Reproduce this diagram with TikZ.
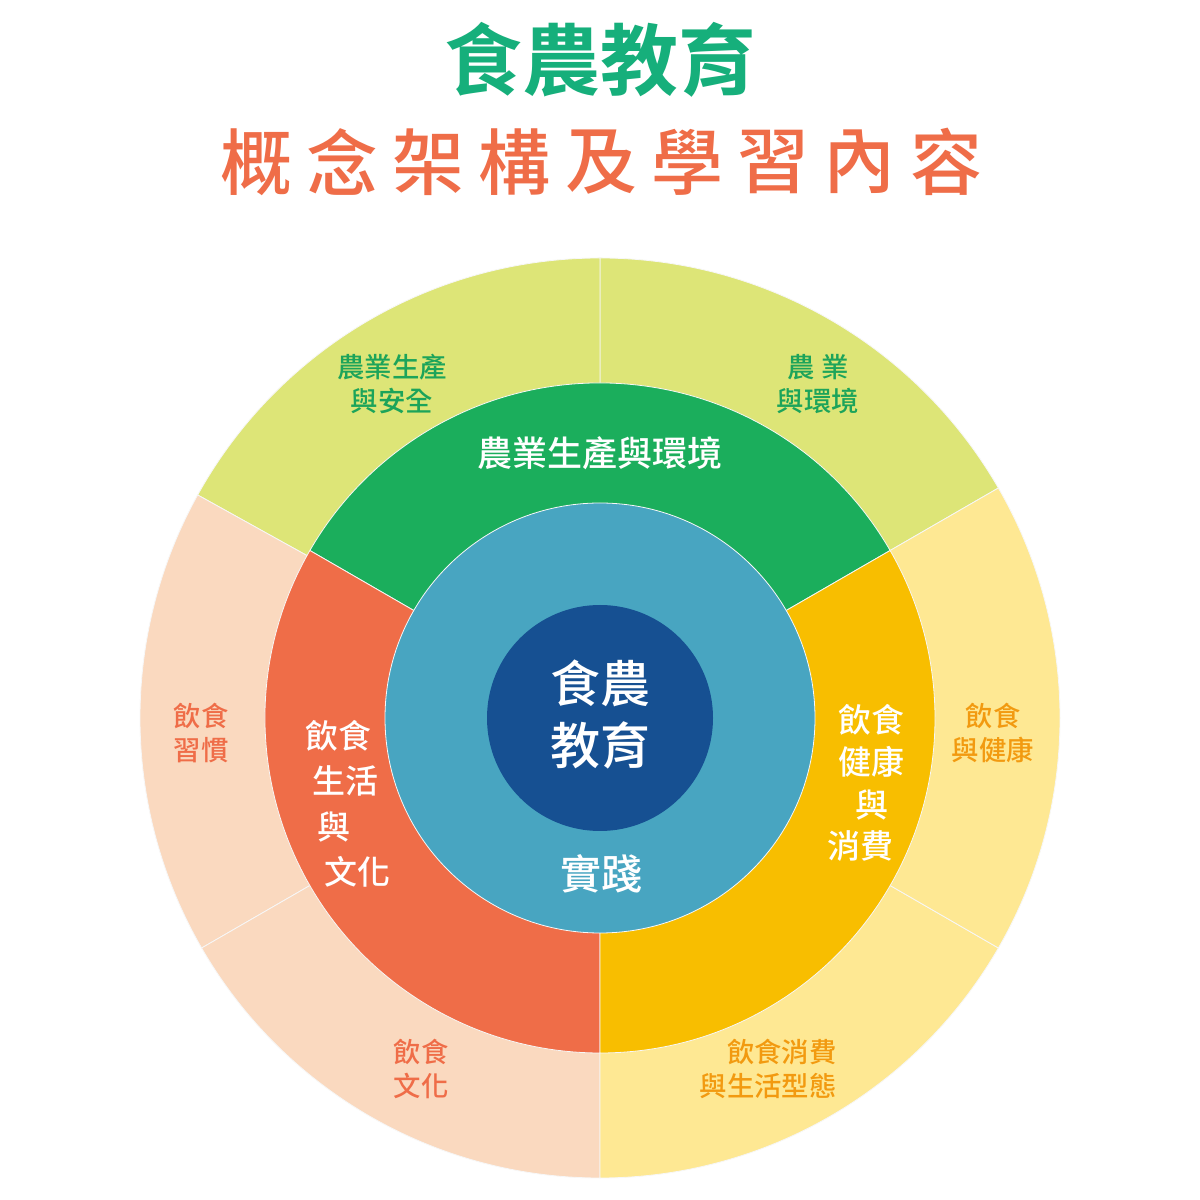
\documentclass[tikz,border=0pt]{standalone}
\usepackage{fontspec}
\usetikzlibrary{positioning}
\newfontfamily\cjk{Noto Sans CJK TC}
\newfontfamily\cjkmid{Noto Sans CJK TC Medium}
\newfontfamily\cjkbold{Noto Sans CJK TC Bold}
\definecolor{lime}{HTML}{DDE577}
\definecolor{peach}{HTML}{FAD9BF}
\definecolor{cream}{HTML}{FEE893}
\definecolor{leaf}{HTML}{1BAE5C}
\definecolor{coral}{HTML}{EF6D48}
\definecolor{amber}{HTML}{F8BE00}
\definecolor{sky}{HTML}{48A5C1}
\definecolor{navy}{HTML}{165092}
\definecolor{titlegreen}{HTML}{16AF7B}
\definecolor{leaftext}{HTML}{1CA45A}
\definecolor{ambertext}{HTML}{F29A10}
\tikzset{
sector/.style={draw=white!70!gray!20,line width=0.4pt},
maintitle/.style={font=\cjkbold\fontsize{39}{44}\selectfont,text=titlegreen},
subtitle/.style={font=\cjkmid\fontsize{36}{40}\selectfont,text=coral},
outerlbl/.style={font=\cjkmid\fontsize{13.7}{17}\selectfont,align=center,inner sep=0pt},
ringlbl/.style={font=\cjkmid\fontsize{16.5}{20}\selectfont,text=white,inner sep=0pt},
toplbl/.style={font=\cjkmid\fontsize{17.5}{20}\selectfont,text=white,inner sep=0pt},
corelbl/.style={font=\cjkmid\fontsize{25}{31}\selectfont,text=white,align=center,inner sep=0pt},
practicelbl/.style={font=\cjkmid\fontsize{20.5}{24}\selectfont,text=white,inner sep=0pt}
}

\begin{document}
\begin{tikzpicture}[x=0.5pt,y=0.5pt]
\fill[white] (0,0) rectangle (1200,1200);
\useasboundingbox (0,0) rectangle (1200,1200);
\coordinate (c) at (600,482);

% outer ring
\foreach \a/\b/\col in {30/90/lime,90/151/lime,151/210/peach,210/270/peach,270/330/cream,330/390/cream}
  \filldraw[sector,fill=\col] (c) -- ++(\a:460) arc[start angle=\a,end angle=\b,radius=460] -- cycle;

% middle ring
\foreach \a/\b/\col in {30/150/leaf,150/270/coral,270/390/amber}
  \filldraw[sector,fill=\col] (c) -- ++(\a:335) arc[start angle=\a,end angle=\b,radius=335] -- cycle;

% inner circles
\filldraw[sector,fill=sky] (c) circle[radius=215];
\fill[navy] (c) circle[radius=113];

% titles
\node[maintitle] (title) at (600,1140) {食農教育};
\foreach \ch [count=\i from 0] in {概,念,架,構,及,學,習,內,容}
  \node[subtitle] (sub\i) at (256+86.25*\i,1038) {\ch};

% centre
\node[corelbl] (core) at (600,485) {食農\\教育};
\node[practicelbl] (practice) at (601,326) {實踐};

% middle ring labels
\node[toplbl] (agri) at (600,747) {農業生產與環境};
\node[ringlbl] (lifeA) at (338,464) {飲食};
\node[ringlbl] (lifeB) at (345,419) {生活};
\node[ringlbl] (lifeC) at (334,373) {與};
\node[ringlbl] (lifeD) at (357,328) {文化};
\node[ringlbl] (healthA) at (871,480) {飲食};
\node[ringlbl] (healthB) at (871,438) {健康};
\node[ringlbl] (healthC) at (872,395) {與};
\node[ringlbl] (healthD) at (860,354) {消費};

% outer ring labels
\node[outerlbl,text=leaftext] (safety) at (392,816) {農業生產\\與安全};
\node[outerlbl,text=leaftext] (environ) at (818,816) {農 業\\與環境};
\node[outerlbl,text=coral] (habit) at (201,467) {飲食\\習慣};
\node[outerlbl,text=coral] (culture) at (421,131) {飲食\\文化};
\node[outerlbl,text=ambertext] (wellness) at (993,467) {飲食\\與健康};
\node[outerlbl,text=ambertext,align=right,anchor=east] (lifestyle) at (837,131) {飲食消費\\與生活型態};
\end{tikzpicture}
\end{document}
